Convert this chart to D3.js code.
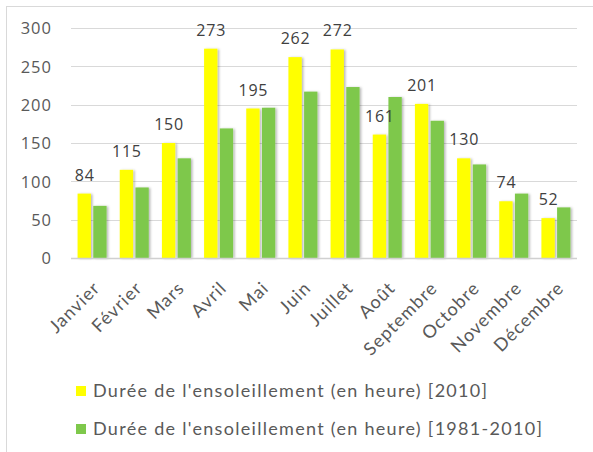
<!DOCTYPE html>
<html>
<head>
<meta charset="utf-8">
<script src="https://cdn.jsdelivr.net/npm/d3@7"></script>
<style>
  html, body { margin: 0; padding: 0; background: #fff; }
  svg { display: block; }
</style>
</head>
<body>
<svg id="chart" width="593" height="452"></svg>
<script>
// Monthly sunshine duration (hours)
const months = ["Janvier", "Février", "Mars", "Avril", "Mai", "Juin",
                "Juillet", "Août", "Septembre", "Octobre", "Novembre", "Décembre"];
const sun2010 = [84, 115, 150, 273, 195, 262, 272, 161, 201, 130, 74, 52];
const sunNormal = [68, 92, 130, 169, 196, 217, 223, 210, 179, 122, 84, 66];
const yTicks = [0, 50, 100, 150, 200, 250, 300];
const seriesNames = ["Durée de l'ensoleillement (en heure) [2010]",
                     "Durée de l'ensoleillement (en heure) [1981-2010]"];
const seriesColors = ["#ffff00", "#7ec84b"];

const svg = d3.select("#chart");
const plot = { left: 71, right: 577, top: 28, bottom: 258 };

// Outer frame
svg.append("rect")
  .attr("x", 6.5).attr("y", 6.5)
  .attr("width", 620).attr("height", 470)
  .attr("fill", "#fff").attr("stroke", "#d9d9d9").attr("stroke-width", 1);

// Soft shadow on the bars
const defs = svg.append("defs");
const f = defs.append("filter").attr("id", "barShadow")
  .attr("x", "-20%").attr("y", "-5%").attr("width", "160%").attr("height", "110%");
f.append("feDropShadow").attr("dx", 1.6).attr("dy", 0.5)
  .attr("stdDeviation", 0.9).attr("flood-color", "#000").attr("flood-opacity", 0.28);

const x = d3.scaleBand().domain(months).range([plot.left, plot.right]).padding(0);
const xSub = d3.scaleBand().domain([0, 1]).range([0, x.bandwidth()])
  .paddingInner(0.15).paddingOuter(0.42);
const y = d3.scaleLinear().domain([0, 300]).range([plot.bottom, plot.top]);

// Gridlines
svg.append("g").selectAll("line").data(yTicks.filter(t => t > 0)).join("line")
  .attr("x1", plot.left).attr("x2", plot.right)
  .attr("y1", d => Math.round(y(d)) + 0.5).attr("y2", d => Math.round(y(d)) + 0.5)
  .attr("stroke", "#d9d9d9").attr("stroke-width", 1);

// Y axis labels
const yAxis = d3.axisLeft(y).tickValues(yTicks).tickSize(0).tickPadding(0);
const yg = svg.append("g").attr("transform", `translate(52,0)`).call(yAxis);
yg.select(".domain").remove();
yg.selectAll("text")
  .attr("font-family", "'Open Sans', sans-serif").attr("font-size", 16.5)
  .attr("letter-spacing", 1)
  .attr("fill", "#595959").attr("dy", "0.36em");

// Bars
const series = [sun2010, sunNormal];
series.forEach((vals, si) => {
  svg.append("g").attr("filter", "url(#barShadow)")
    .selectAll("rect").data(vals).join("rect")
    .attr("x", (d, i) => x(months[i]) + xSub(si))
    .attr("width", xSub.bandwidth())
    .attr("y", d => y(d))
    .attr("height", d => y(0) - y(d))
    .attr("fill", seriesColors[si]);
});

// Baseline
svg.append("line")
  .attr("x1", plot.left).attr("x2", plot.right)
  .attr("y1", plot.bottom + 0.5).attr("y2", plot.bottom + 0.5)
  .attr("stroke", "#d0d0d0").attr("stroke-width", 1.5);

// Value labels above the 2010 bars
svg.append("g").selectAll("text").data(sun2010).join("text")
  .attr("x", (d, i) => x(months[i]) + xSub(0) + xSub.bandwidth() / 2 + 0.5)
  .attr("y", d => y(d) - 13)
  .attr("text-anchor", "middle")
  .attr("font-family", "'Open Sans', sans-serif").attr("font-size", 16)
  .attr("letter-spacing", 0.8)
  .attr("fill", "#404040")
  .text(d => d);

// Month labels, rotated
const xAxis = d3.axisBottom(x).tickSize(0).tickPadding(0);
const xg = svg.append("g").attr("transform", `translate(0,${plot.bottom})`).call(xAxis);
xg.select(".domain").remove();
xg.selectAll(".tick text")
  .attr("font-family", "Lato, sans-serif").attr("font-size", 18)
  .attr("letter-spacing", 1.1)
  .attr("fill", "#595959")
  .attr("text-anchor", "end")
  .attr("y", 0)
  .attr("transform", "translate(0,22) rotate(-45)")
  .attr("dy", "0.72em");

// Legend
const lg = svg.append("g");
seriesNames.forEach((name, i) => {
  const ly = 397 + i * 38;
  lg.append("rect").attr("x", 76).attr("y", ly - 11).attr("width", 10).attr("height", 10)
    .attr("fill", seriesColors[i]);
  lg.append("text").attr("x", 93).attr("y", ly)
    .attr("font-family", "Lato, sans-serif").attr("font-size", 18)
    .attr("letter-spacing", 1.3)
    .attr("fill", "#595959")
    .text(name);
});
</script>
</body>
</html>
